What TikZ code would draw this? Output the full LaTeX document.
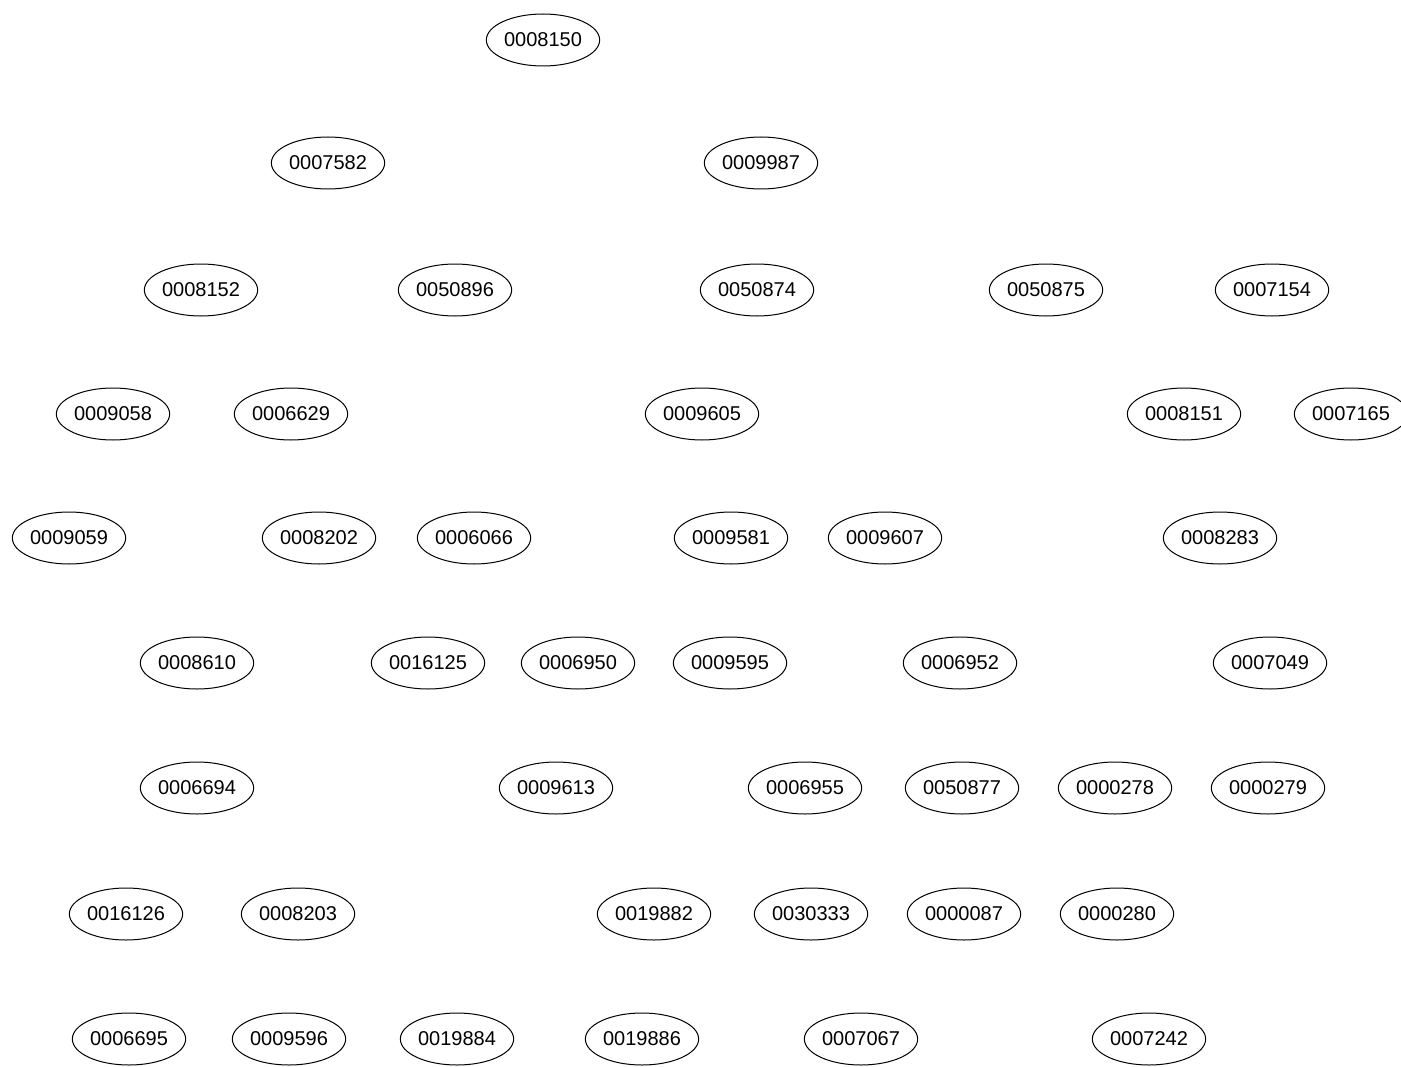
\documentclass[tikz,border=0pt]{standalone}
\usepackage{fontspec}
\setmainfont{Liberation Sans}
\usetikzlibrary{shapes.geometric}
\tikzset{
  term/.style={ellipse,draw,line width=0.75pt,minimum width=85pt,minimum height=39pt,inner sep=0pt,font=\fontsize{15}{18}\selectfont}
}
\begin{document}
\begin{tikzpicture}[x=0.75pt,y=-0.75pt]
        \useasboundingbox (0,0) rectangle (1401,1066);
        % row 1
        \node[term] at (543,40) (n0008150) {0008150};
        % row 2
        \node[term] at (328,163) (n0007582) {0007582};
        \node[term] at (761,163) (n0009987) {0009987};
        % row 3
        \node[term] at (201,290) (n0008152) {0008152};
        \node[term] at (455,290) (n0050896) {0050896};
        \node[term] at (757,290) (n0050874) {0050874};
        \node[term] at (1046,290) (n0050875) {0050875};
        \node[term] at (1272,290) (n0007154) {0007154};
        % row 4
        \node[term] at (113,414) (n0009058) {0009058};
        \node[term] at (291,414) (n0006629) {0006629};
        \node[term] at (702,414) (n0009605) {0009605};
        \node[term] at (1184,414) (n0008151) {0008151};
        \node[term] at (1351,414) (n0007165) {0007165};
        % row 5
        \node[term] at (69,538) (n0009059) {0009059};
        \node[term] at (319,538) (n0008202) {0008202};
        \node[term] at (474,538) (n0006066) {0006066};
        \node[term] at (731,538) (n0009581) {0009581};
        \node[term] at (885,538) (n0009607) {0009607};
        \node[term] at (1220,538) (n0008283) {0008283};
        % row 6
        \node[term] at (197,663) (n0008610) {0008610};
        \node[term] at (428,663) (n0016125) {0016125};
        \node[term] at (578,663) (n0006950) {0006950};
        \node[term] at (730,663) (n0009595) {0009595};
        \node[term] at (960,663) (n0006952) {0006952};
        \node[term] at (1270,663) (n0007049) {0007049};
        % row 7
        \node[term] at (197,788) (n0006694) {0006694};
        \node[term] at (556,788) (n0009613) {0009613};
        \node[term] at (805,788) (n0006955) {0006955};
        \node[term] at (962,788) (n0050877) {0050877};
        \node[term] at (1115,788) (n0000278) {0000278};
        \node[term] at (1268,788) (n0000279) {0000279};
        % row 8
        \node[term] at (126,914) (n0016126) {0016126};
        \node[term] at (298,914) (n0008203) {0008203};
        \node[term] at (654,914) (n0019882) {0019882};
        \node[term] at (811,914) (n0030333) {0030333};
        \node[term] at (964,914) (n0000087) {0000087};
        \node[term] at (1117,914) (n0000280) {0000280};
        % row 9
        \node[term] at (129,1039) (n0006695) {0006695};
        \node[term] at (289,1039) (n0009596) {0009596};
        \node[term] at (457,1039) (n0019884) {0019884};
        \node[term] at (642,1039) (n0019886) {0019886};
        \node[term] at (861,1039) (n0007067) {0007067};
        \node[term] at (1149,1039) (n0007242) {0007242};
    \end{tikzpicture}
\end{document}
